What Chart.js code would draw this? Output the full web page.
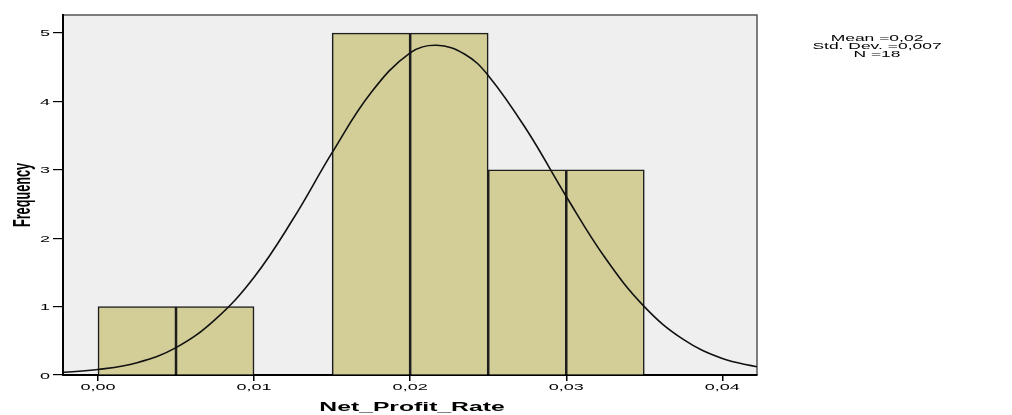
<!DOCTYPE html>
<html>
<head>
<meta charset="utf-8">
<script src="https://cdn.jsdelivr.net/npm/chart.js@4/dist/chart.umd.min.js"></script>
<style>
  html, body { margin: 0; padding: 0; background: #ffffff; }
  #wrap { position: relative; width: 1012px; height: 415px; }
</style>
</head>
<body>
<div id="wrap"><canvas id="c"></canvas></div>
<script>
// Histogram bins (lower edges) and their counts
const binStarts = [0.000, 0.005, 0.010, 0.015, 0.020, 0.025, 0.030];
const binWidth = 0.005;
const frequencies = [1, 1, 0, 5, 5, 3, 3];

// Fitted normal curve, sampled across the axis range
const curveX = [-0.00224, 0.000, 0.0025, 0.005, 0.0075, 0.010, 0.0125, 0.015, 0.0175, 0.020,
                0.0217, 0.0235, 0.025, 0.0275, 0.030, 0.0325, 0.035, 0.0375, 0.040, 0.04222];
const curveY = [0.04, 0.08, 0.18, 0.40, 0.81, 1.43, 2.28, 3.25, 4.13, 4.71,
                4.82, 4.69, 4.38, 3.57, 2.61, 1.71, 1.00, 0.52, 0.24, 0.12];

// Axis ticks and labels
const xTickValues = [0.00, 0.01, 0.02, 0.03, 0.04];
const xTickLabels = ['0,00', '0,01', '0,02', '0,03', '0,04'];
const yTickValues = [0, 1, 2, 3, 4, 5];
const yTickLabels = ['0', '1', '2', '3', '4', '5'];

// Texts
const xTitle = 'Net_Profit_Rate';
const yTitle = 'Frequency';
const statsLines = ['Mean =0,02', 'Std. Dev. =0,007', 'N =18'];

const X_MIN = -0.00224, X_MAX = 0.04222;
const Y_MIN = 0, Y_MAX = 5.263;
const STRETCH = 1.9;   // wide, horizontally stretched lettering
const FONT = '"Liberation Sans", Arial, sans-serif';

const barData = binStarts.map((s, i) => ({ x: s + binWidth / 2, y: frequencies[i] }));
const curveData = curveX.map((x, i) => ({ x: x, y: curveY[i] }));

function wideText(ctx, text, x, y, align, font) {
  ctx.save();
  ctx.font = font;
  ctx.fillStyle = '#000';
  ctx.textAlign = align;
  ctx.textBaseline = 'alphabetic';
  ctx.translate(x, y);
  ctx.scale(STRETCH, 1);
  ctx.fillText(text, 0, 0);
  ctx.restore();
}

const panelPlugin = {
  id: 'panel',
  beforeDraw(chart) {
    const { ctx, chartArea: a } = chart;
    ctx.save();
    ctx.fillStyle = '#efefef';
    ctx.fillRect(a.left, a.top, a.right - a.left, a.bottom - a.top);
    ctx.strokeStyle = '#555555';
    ctx.lineWidth = 1.5;
    ctx.beginPath();
    ctx.moveTo(a.left, a.top);
    ctx.lineTo(a.right, a.top);
    ctx.lineTo(a.right, a.bottom);
    ctx.stroke();
    ctx.restore();
  }
};

const labelPlugin = {
  id: 'labels',
  afterDraw(chart) {
    const { ctx, chartArea: a } = chart;
    const xs = chart.scales.x, ys = chart.scales.y;
    const tickFont = '9.5px ' + FONT;

    xTickValues.forEach((v, i) => {
      wideText(ctx, xTickLabels[i], xs.getPixelForValue(v), 390, 'center', tickFont);
    });
    yTickValues.forEach((v, i) => {
      wideText(ctx, yTickLabels[i], 50, ys.getPixelForValue(v) + 3.5, 'right', tickFont);
    });

    // axis titles
    wideText(ctx, xTitle, (a.left + a.right) / 2 + 2, 410.5, 'center', 'bold 13px ' + FONT);

    ctx.save();
    ctx.font = 'bold 12.7px ' + FONT;
    ctx.fillStyle = '#000';
    ctx.textAlign = 'center';
    ctx.textBaseline = 'alphabetic';
    ctx.translate(29.5, (a.top + a.bottom) / 2);
    ctx.rotate(-Math.PI / 2);
    ctx.scale(1, STRETCH);
    ctx.fillText(yTitle, 0, 0);
    ctx.restore();

    // summary statistics
    statsLines.forEach((t, i) => {
      wideText(ctx, t, 877, 40.5 + i * 8.3, 'center', '9.2px ' + FONT);
    });
  }
};

new Chart(document.getElementById('c'), {
  type: 'bar',
  data: {
    datasets: [
      {
        type: 'line',
        data: curveData,
        borderColor: '#111111',
        borderWidth: 1.6,
        pointRadius: 0,
        fill: false,
        tension: 0.4,
        order: 0
      },
      {
        type: 'bar',
        data: barData,
        backgroundColor: '#d3ce98',
        borderColor: '#1e1e1e',
        borderWidth: 1.6,
        borderSkipped: 'bottom',
        barPercentage: 1,
        categoryPercentage: 1,
        order: 1
      }
    ]
  },
  options: {
    responsive: true,
    maintainAspectRatio: false,
    animation: false,
    events: [],
    layout: { padding: { top: 15, right: 255, left: 0, bottom: 0 } },
    plugins: { legend: { display: false }, tooltip: { enabled: false } },
    scales: {
      x: {
        type: 'linear',
        min: X_MIN,
        max: X_MAX,
        offset: false,
        afterBuildTicks(s) { s.ticks = xTickValues.map(v => ({ value: v })); },
        afterFit(s) { s.height = 40; },
        ticks: { display: false },
        grid: { drawOnChartArea: false, offset: false, drawTicks: true, tickLength: 6, color: '#000', lineWidth: 1.5 },
        border: { display: true, color: '#000', width: 2 }
      },
      y: {
        type: 'linear',
        min: Y_MIN,
        max: Y_MAX,
        afterBuildTicks(s) { s.ticks = yTickValues.map(v => ({ value: v })); },
        afterFit(s) { s.width = 63; },
        ticks: { display: false },
        grid: { drawOnChartArea: false, drawTicks: true, tickLength: 10, color: '#000', lineWidth: 1.2 },
        border: { display: true, color: '#000', width: 2 }
      }
    }
  },
  plugins: [panelPlugin, labelPlugin]
});
</script>
</body>
</html>
